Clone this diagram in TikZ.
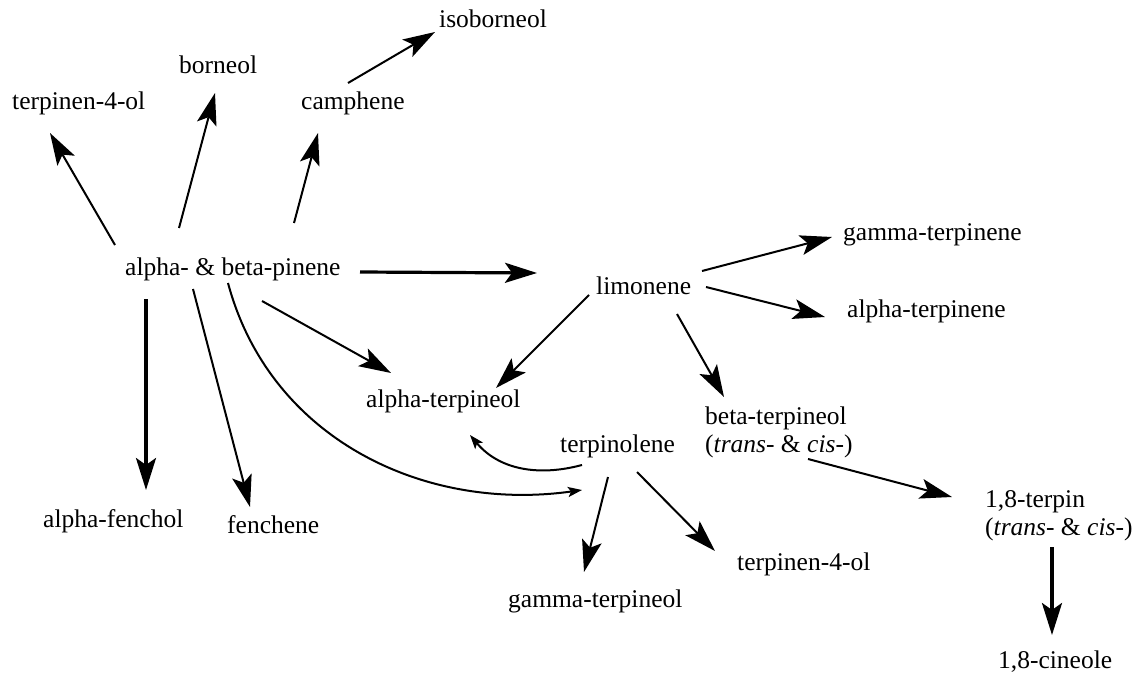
\documentclass[tikz,border=0pt]{standalone}
\usepackage{fontspec}
\setmainfont{Liberation Serif}
\usetikzlibrary{arrows.meta}

\begin{document}
\begin{tikzpicture}[
    x=1pt, y=1pt,
    chem/.style={inner sep=0pt, anchor=base west, font=\fontsize{25.5}{28}\selectfont, align=left},
    arrow/.style={-{Stealth[length=32pt, width=20pt, inset=7pt]}, line width=2pt},
    bigarrow/.style={arrow, line width=3.2pt},
    curvearrow/.style={-{Stealth[length=14pt, width=10pt, inset=3pt]}, line width=2pt}
]
    \useasboundingbox (0,0) rectangle (1133,-674);

    % Compounds
    \node[chem] (iso) at (439,-28) {isoborneol};
    \node[chem] (born) at (179,-74) {borneol};
    \node[chem] (t4top) at (12,-110) {terpinen-4-ol};
    \node[chem] (camph) at (301,-110) {camphene};
    \node[chem] (pin) at (125,-275) {alpha- \& beta-pinene};
    \node[chem] (lim) at (596,-294) {limonene};
    \node[chem] (gter) at (843,-240) {gamma-terpinene};
    \node[chem] (ater) at (847,-317) {alpha-terpinene};
    \node[chem] (aterp) at (366,-407) {alpha-terpineol};
    \node[chem] (bterp) at (705,-452) {beta-terpineol\\(\textit{trans}- \& \textit{cis}-)};
    \node[chem] (terpl) at (560,-452) {terpinolene};
    \node[chem] (terpin) at (985,-535) {1,8-terpin\\(\textit{trans}- \& \textit{cis}-)};
    \node[chem] (cin) at (998,-668) {1,8-cineole};
    \node[chem] (fench) at (43,-527) {alpha-fenchol};
    \node[chem] (fen) at (227,-533) {fenchene};
    \node[chem] (gterp) at (508,-607) {gamma-terpineol};
    \node[chem] (t4bot) at (737,-570) {terpinen-4-ol};

    % From pinene
    \draw[arrow] ([shift={(-10,30)}]pin.base west) -- ([shift={(38,-23)}]t4top.base west);
    \draw[arrow] ([shift={(54,47)}]pin.base west) -- ([shift={(36,-19)}]born.base west);
    \draw[arrow] ([shift={(169,52)}]pin.base west) -- ([shift={(17,-23)}]camph.base west);
    \draw[arrow] ([shift={(47,27)}]camph.base west) -- ([shift={(-4,-4)}]iso.base west);
    \draw[bigarrow] ([shift={(235,3)}]pin.base west) -- ([shift={(-59,21)}]lim.base west);
    \draw[arrow] ([shift={(137,-26)}]pin.base west) -- ([shift={(25,34)}]aterp.base west);
    \draw[bigarrow] ([shift={(21,-24)}]pin.base west) -- ([shift={(103,37)}]fench.base west);
    \draw[arrow] ([shift={(68,-14)}]pin.base west) -- ([shift={(23,26)}]fen.base west);
    \draw[curvearrow] ([shift={(103,-8)}]pin.base west) to[out=-75, in=188, looseness=1] ([shift={(22,-38)}]terpl.base west);

    % From limonene
    \draw[arrow] ([shift={(106,23)}]lim.base west) -- ([shift={(-11,3)}]gter.base west);
    \draw[arrow] ([shift={(110,7)}]lim.base west) -- ([shift={(-22,0)}]ater.base west);
    \draw[arrow] ([shift={(-7,-1)}]lim.base west) -- ([shift={(130,19)}]aterp.base west);
    \draw[arrow] ([shift={(81,-20)}]lim.base west) -- ([shift={(19,55)}]bterp.base west);

    % From terpinolene
    \draw[curvearrow] ([shift={(22,-13)}]terpl.base west) to[out=195, in=-50] ([shift={(104,-28)}]aterp.base west);
    \draw[arrow] ([shift={(48,-25)}]terpl.base west) -- ([shift={(76,35)}]gterp.base west);
    \draw[arrow] ([shift={(77,-20)}]terpl.base west) -- ([shift={(-22,19)}]t4bot.base west);

    % Terpin route
    \draw[arrow] ([shift={(103,-7)}]bterp.base west) -- ([shift={(-33,38)}]terpin.base west);
    \draw[bigarrow] ([shift={(67,-12)}]terpin.base west) -- ([shift={(54,33)}]cin.base west);
\end{tikzpicture}
\end{document}
